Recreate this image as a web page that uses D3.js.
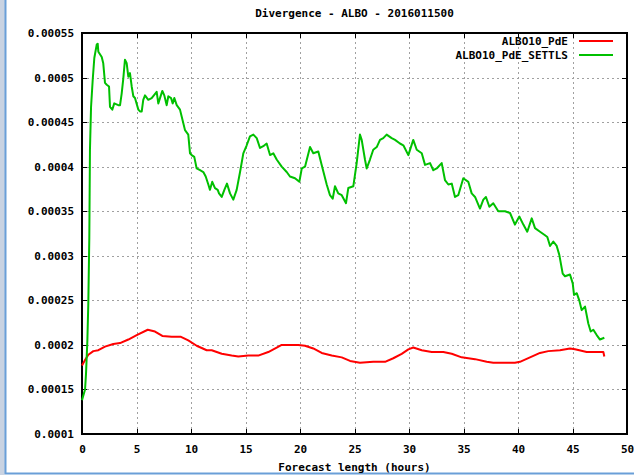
<!DOCTYPE html>
<html>
<head>
<meta charset="utf-8">
<script src="https://cdn.jsdelivr.net/npm/d3@7.9.0/dist/d3.min.js"></script>
<style>
  body { margin: 0; background: #fff; }
  svg text { font-family: "DejaVu Sans Mono", monospace; font-weight: bold; font-size: 11px; fill: #000; }
</style>
</head>
<body>
<svg id="chart" width="634" height="475"></svg>
<script>
// forecast hours and divergence values
const pdeHours = [0, 0.28, 0.58, 1.04, 1.5, 2.11, 2.87, 3.49, 4.25, 5.02, 6.03, 6.7, 7.37, 8.23, 9.08,
  9.75, 10.52, 11.44, 11.9, 12.82, 13.73, 14.34, 15.26, 16.17, 17.09, 17.86, 18.32, 19.84, 20.46,
  21.22, 21.99, 22.91, 23.83, 24.59, 25.5, 26.72, 27.8, 28.56, 29.33, 29.94, 30.39, 31.17, 32.08,
  33.15, 33.92, 34.83, 36.06, 37.13, 37.73, 39.72, 40.18, 41.1, 42.02, 42.78, 43.85, 44.77, 45.23,
  46.3, 47.83, 47.92];
const pdeValues = [0.000177, 0.000183, 0.000189, 0.000193, 0.000194, 0.000198, 0.000201, 0.000202,
  0.000206, 0.000211, 0.000217, 0.000215, 0.00021, 0.000209, 0.000209, 0.000205, 0.000199, 0.000194,
  0.000194, 0.00019, 0.000188, 0.000187, 0.000188, 0.000188, 0.000192, 0.000197, 0.0002, 0.0002,
  0.000199, 0.000196, 0.000191, 0.000188, 0.000186, 0.000182, 0.00018, 0.000181, 0.000181, 0.000185,
  0.00019, 0.000195, 0.000197, 0.000194, 0.000192, 0.000192, 0.00019, 0.000186, 0.000184, 0.000181,
  0.00018, 0.00018, 0.000181, 0.000186, 0.000191, 0.000193, 0.000194, 0.000196, 0.000195, 0.000192,
  0.000192, 0.000187];

const settlsHours = [0, 0.28, 0.37, 0.49, 0.58, 0.67, 0.73, 0.83, 0.98, 1.13, 1.35, 1.44, 1.5, 1.81,
  1.95, 2.11, 2.27, 2.48, 2.57, 2.78, 2.96, 3.33, 3.49, 3.64, 3.79, 3.94, 4.1, 4.25, 4.4, 4.56, 4.71,
  4.86, 5.17, 5.32, 5.48, 5.62, 5.78, 6.08, 6.39, 6.85, 7.0, 7.37, 7.55, 7.77, 7.92, 8.17, 8.32, 8.47,
  8.69, 8.99, 9.15, 9.45, 9.75, 9.91, 10.06, 10.3, 10.52, 10.83, 11.13, 11.35, 11.59, 11.74, 11.95,
  12.2, 12.45, 12.57, 12.82, 13.06, 13.3, 13.58, 13.88, 14.19, 14.5, 14.8, 15.11, 15.41, 15.72, 16.03,
  16.33, 16.63, 16.94, 17.25, 17.55, 17.86, 18.32, 18.78, 19.08, 19.54, 19.94, 20.16, 20.46, 20.92,
  21.22, 21.68, 21.99, 22.45, 22.75, 23.0, 23.21, 23.51, 23.83, 24.22, 24.43, 24.89, 25.2, 25.5,
  25.66, 25.96, 26.12, 26.42, 26.72, 27.04, 27.34, 27.64, 27.95, 28.41, 28.72, 29.17, 29.48, 29.94,
  30.39, 30.71, 31.17, 31.47, 31.93, 32.23, 32.54, 33.0, 33.3, 33.61, 33.92, 34.22, 34.52, 34.98,
  35.44, 35.75, 36.06, 36.51, 36.82, 37.06, 37.37, 37.73, 38.19, 38.81, 39.27, 39.72, 40.12, 40.49,
  40.85, 41.26, 41.56, 42.02, 42.48, 42.69, 42.94, 43.24, 43.55, 43.79, 44.1, 44.31, 44.77, 45.02,
  45.14, 45.39, 45.62, 45.84, 46.15, 46.45, 46.67, 46.91, 47.22, 47.52, 47.92];
const settlsValues = [0.000138, 0.00015, 0.000168, 0.000204, 0.000247, 0.00032, 0.000419, 0.000467,
  0.000497, 0.000522, 0.000537, 0.000538, 0.000529, 0.000523, 0.000516, 0.000494, 0.000492, 0.00049,
  0.000467, 0.000464, 0.000471, 0.000469, 0.000469, 0.000482, 0.000499, 0.00052, 0.000516, 0.000501,
  0.000505, 0.00049, 0.000479, 0.000477, 0.000464, 0.000462, 0.000462, 0.000475, 0.00048, 0.000475,
  0.000477, 0.000484, 0.000471, 0.000485, 0.00048, 0.000469, 0.000479, 0.000477, 0.000471, 0.000477,
  0.000469, 0.000464, 0.000456, 0.000441, 0.000436, 0.000415, 0.000413, 0.000411, 0.000398, 0.000396,
  0.000394, 0.000389, 0.00038, 0.000374, 0.000383, 0.000376, 0.000374, 0.00037, 0.000366, 0.000374,
  0.000381, 0.00037, 0.000363, 0.000374, 0.000394, 0.000415, 0.000424, 0.000434, 0.000436, 0.000432,
  0.000421, 0.000423, 0.000426, 0.000413, 0.000415, 0.000408, 0.0004, 0.000394, 0.000389, 0.000387,
  0.000383, 0.000398, 0.0004, 0.000422, 0.000415, 0.000417, 0.000402, 0.00038, 0.000368, 0.000364,
  0.000378, 0.00037, 0.000368, 0.000359, 0.000376, 0.000378, 0.000404, 0.000436, 0.00043, 0.000408,
  0.000398, 0.000408, 0.000419, 0.000422, 0.00043, 0.000432, 0.000436, 0.000432, 0.00043, 0.000426,
  0.000424, 0.000413, 0.00043, 0.000419, 0.000415, 0.000402, 0.000404, 0.000396, 0.000398, 0.000404,
  0.000385, 0.00038, 0.000381, 0.000366, 0.000368, 0.000387, 0.000383, 0.00037, 0.000366, 0.000353,
  0.000363, 0.000366, 0.000355, 0.000359, 0.00035, 0.00035, 0.000348, 0.000335, 0.000344, 0.000335,
  0.000327, 0.000342, 0.000331, 0.000327, 0.000323, 0.000321, 0.000311, 0.000316, 0.000311, 0.000301,
  0.00028, 0.000277, 0.000279, 0.000269, 0.000256, 0.000258, 0.00025, 0.000239, 0.000243, 0.000224,
  0.000215, 0.000217, 0.000211, 0.000206, 0.000208];

const seriesNames = ['ALBO10_PdE', 'ALBO10_PdE_SETTLS'];
const seriesColors = ['#ff0000', '#00c000'];

const xTicks = [0, 5, 10, 15, 20, 25, 30, 35, 40, 45, 50];
const yTicks = [0.0001, 0.00015, 0.0002, 0.00025, 0.0003, 0.00035, 0.0004, 0.00045, 0.0005, 0.00055];
const yTickLabels = ['0.0001', '0.00015', '0.0002', '0.00025', '0.0003', '0.00035', '0.0004',
  '0.00045', '0.0005', '0.00055'];

const svg = d3.select('#chart');
const W = 634, H = 475;
const margin = { top: 33, right: 7, bottom: 41, left: 82 };
const innerW = W - margin.left - margin.right;
const innerH = H - margin.top - margin.bottom;

// window frame bits on the left and bottom
svg.append('rect').attr('x', 0).attr('y', 0).attr('width', 5).attr('height', H).attr('fill', '#c9d3e2');
svg.append('line').attr('x1', 5.5).attr('x2', 5.5).attr('y1', 0).attr('y2', 474)
  .attr('stroke', '#6a9fd8').attr('stroke-width', 2);
svg.append('line').attr('x1', 5).attr('x2', W).attr('y1', 473.5).attr('y2', 473.5)
  .attr('stroke', '#6a9fd8').attr('stroke-width', 2);

const g = svg.append('g').attr('transform', `translate(${margin.left},${margin.top})`);

const x = d3.scaleLinear().domain([0, 50]).range([0, innerW]);
const y = d3.scaleLinear().domain([0.0001, 0.00055]).range([innerH, 0]);

// grid
const gridX = g.append('g')
  .attr('transform', `translate(0,${innerH})`)
  .call(d3.axisBottom(x).tickValues(xTicks.slice(1, -1)).tickSize(-innerH).tickFormat(''));
const gridY = g.append('g')
  .call(d3.axisLeft(y).tickValues(yTicks.slice(1, -1)).tickSize(-innerW).tickFormat(''));
[gridX, gridY].forEach(gr => {
  gr.select('.domain').remove();
  gr.selectAll('line').attr('stroke', '#a0a0a0').attr('stroke-dasharray', '2,3')
    .attr('shape-rendering', 'crispEdges');
});

// axes with inward ticks
const xAxis = g.append('g')
  .attr('transform', `translate(0,${innerH})`)
  .call(d3.axisBottom(x).tickValues(xTicks).tickSizeInner(-5).tickSizeOuter(0).tickPadding(11)
    .tickFormat(d3.format('d')));
const yAxis = g.append('g')
  .call(d3.axisLeft(y).tickValues(yTicks).tickSizeInner(-5).tickSizeOuter(0).tickPadding(8)
    .tickFormat((d, i) => yTickLabels[i]));
const xTop = g.append('g')
  .call(d3.axisTop(x).tickValues(xTicks).tickSizeInner(-5).tickSizeOuter(0).tickFormat(''));
const yRight = g.append('g')
  .attr('transform', `translate(${innerW},0)`)
  .call(d3.axisRight(y).tickValues(yTicks).tickSizeInner(-5).tickSizeOuter(0).tickFormat(''));
[xAxis, yAxis, xTop, yRight].forEach(a => {
  a.select('.domain').remove();
  a.selectAll('line').attr('stroke', '#000').attr('shape-rendering', 'crispEdges');
  a.selectAll('text').attr('font-family', null).attr('font-size', null).attr('fill', '#000');
});

// frame
g.append('rect').attr('x', 0).attr('y', 0).attr('width', innerW).attr('height', innerH)
  .attr('fill', 'none').attr('stroke', '#000').attr('stroke-width', 1.5)
  .attr('shape-rendering', 'crispEdges');

// lines
const line = d3.line().x(d => x(d[0])).y(d => y(d[1]));
const series = [
  d3.zip(pdeHours, pdeValues),
  d3.zip(settlsHours, settlsValues)
];
series.forEach((s, i) => {
  g.append('path')
    .datum(s)
    .attr('fill', 'none')
    .attr('stroke', seriesColors[i])
    .attr('stroke-width', 2)
    .attr('stroke-linejoin', 'round')
    .attr('d', line);
});

// legend
seriesNames.forEach((name, i) => {
  const ly = 41 + i * 14;
  svg.append('text').attr('x', 568).attr('y', ly).attr('dy', '0.35em')
    .attr('text-anchor', 'end').text(name);
  svg.append('line').attr('x1', 579).attr('x2', 613).attr('y1', ly).attr('y2', ly)
    .attr('stroke', seriesColors[i]).attr('stroke-width', 2);
});

// title and axis label
svg.append('text').attr('x', margin.left + innerW / 2).attr('y', 13).attr('dy', '0.35em')
  .attr('text-anchor', 'middle').text('Divergence - ALBO - 2016011500');
svg.append('text').attr('x', margin.left + innerW / 2).attr('y', 467).attr('dy', '0.35em')
  .attr('text-anchor', 'middle').text('Forecast length (hours)');
</script>
</body>
</html>
